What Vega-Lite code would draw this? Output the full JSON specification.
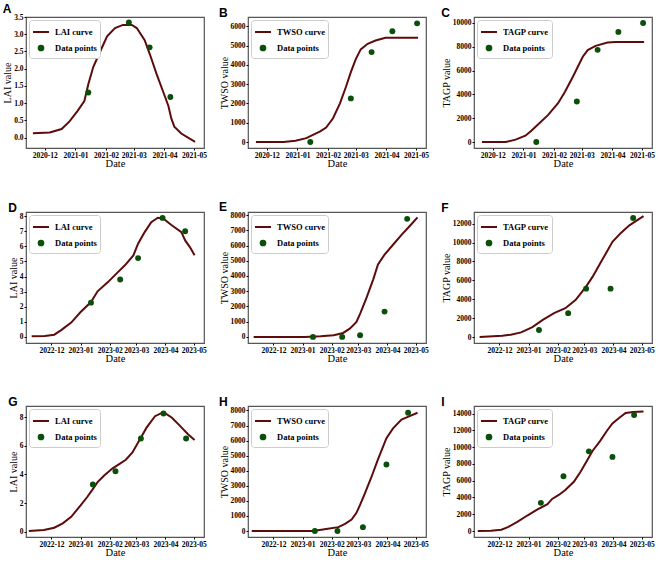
{
  "$schema": "https://vega.github.io/schema/vega-lite/v6.json",
  "padding": {"left": 2, "top": 2, "right": 2, "bottom": 1},
  "background": "white",
  "columns": 3,
  "spacing": {"row": 30, "column": 10},
  "resolve": {"scale": {"x": "independent", "y": "independent", "color": "independent"}, "legend": {"color": "independent"}, "axis": {"x": "independent", "y": "independent"}},
  "concat": [
    {
      "title": "A", "width": 178, "height": 131,
      "data": {"values": [
        {"d": "2020-11-19", "v": 0.13, "s": "LAI curve"}, {"d": "2020-12-06", "v": 0.15, "s": "LAI curve"}, {"d": "2020-12-18", "v": 0.25, "s": "LAI curve"}, {"d": "2020-12-26", "v": 0.47, "s": "LAI curve"}, {"d": "2021-01-03", "v": 0.77, "s": "LAI curve"}, {"d": "2021-01-10", "v": 1.06, "s": "LAI curve"}, {"d": "2021-01-14", "v": 1.55, "s": "LAI curve"}, {"d": "2021-01-19", "v": 2.05, "s": "LAI curve"}, {"d": "2021-01-26", "v": 2.5, "s": "LAI curve"}, {"d": "2021-02-02", "v": 2.94, "s": "LAI curve"}, {"d": "2021-02-10", "v": 3.18, "s": "LAI curve"}, {"d": "2021-02-18", "v": 3.27, "s": "LAI curve"}, {"d": "2021-02-27", "v": 3.27, "s": "LAI curve"}, {"d": "2021-03-04", "v": 3.18, "s": "LAI curve"}, {"d": "2021-03-12", "v": 2.83, "s": "LAI curve"}, {"d": "2021-03-17", "v": 2.44, "s": "LAI curve"}, {"d": "2021-03-24", "v": 1.85, "s": "LAI curve"}, {"d": "2021-03-31", "v": 1.31, "s": "LAI curve"}, {"d": "2021-04-05", "v": 0.92, "s": "LAI curve"}, {"d": "2021-04-08", "v": 0.55, "s": "LAI curve"}, {"d": "2021-04-11", "v": 0.32, "s": "LAI curve"}, {"d": "2021-04-18", "v": 0.12, "s": "LAI curve"}, {"d": "2021-05-02", "v": -0.12, "s": "LAI curve"},
        {"d": "2021-01-14", "v": 1.31, "s": "Data points"}, {"d": "2021-02-24", "v": 3.34, "s": "Data points"}, {"d": "2021-03-17", "v": 2.62, "s": "Data points"}, {"d": "2021-04-07", "v": 1.18, "s": "Data points"}
      ]},
      "encoding": {
        "x": {"field": "d", "type": "temporal", "title": "Date", "scale": {"domain": [{"year": 2020, "month": 11, "date": 12}, {"year": 2021, "month": 5, "date": 11}]}, "axis": {"format": "%Y-%m", "tickCount": {"interval": "month", "step": 1}, "labelOverlap": false, "labelFlush": false}},
        "y": {"field": "v", "type": "quantitative", "title": "LAI value", "scale": {"domain": [-0.3, 3.5], "nice": false, "zero": false}, "axis": {"values": [0, 0.5, 1, 1.5, 2, 2.5, 3, 3.5], "format": ".1f"}},
        "color": {"field": "s", "type": "nominal", "scale": {"domain": ["LAI curve", "Data points"], "range": ["#5e0b0b", "#0b4f0b"]},
          "legend": {"title": null, "encode": {"symbols": {"update": {
            "shape": {"signal": "datum.value === 'Data points' ? 'circle' : 'stroke'"},
            "size": {"signal": "datum.value === 'Data points' ? 22 : 256"},
            "fill": {"signal": "datum.value === 'Data points' ? '#0b4f0b' : 'transparent'"},
            "stroke": {"signal": "datum.value === 'Data points' ? 'transparent' : '#5e0b0b'"},
            "strokeWidth": {"value": 2}, "opacity": {"value": 1}}}}}}
      },
      "layer": [
        {"transform": [{"filter": "datum.s !== 'Data points'"}], "mark": {"type": "line", "strokeWidth": 2}},
        {"transform": [{"filter": "datum.s === 'Data points'"}], "mark": {"type": "point", "filled": true, "size": 35, "opacity": 1}}
      ]
    },
    {
      "title": "B", "width": 178, "height": 131,
      "data": {"values": [
        {"d": "2020-11-20", "v": 0, "s": "TWSO curve"}, {"d": "2020-12-18", "v": 0, "s": "TWSO curve"}, {"d": "2020-12-30", "v": 70, "s": "TWSO curve"}, {"d": "2021-01-10", "v": 200, "s": "TWSO curve"}, {"d": "2021-01-24", "v": 550, "s": "TWSO curve"}, {"d": "2021-01-30", "v": 750, "s": "TWSO curve"}, {"d": "2021-02-06", "v": 1230, "s": "TWSO curve"}, {"d": "2021-02-13", "v": 2000, "s": "TWSO curve"}, {"d": "2021-02-19", "v": 2850, "s": "TWSO curve"}, {"d": "2021-02-24", "v": 3620, "s": "TWSO curve"}, {"d": "2021-03-01", "v": 4300, "s": "TWSO curve"}, {"d": "2021-03-06", "v": 4800, "s": "TWSO curve"}, {"d": "2021-03-13", "v": 5090, "s": "TWSO curve"}, {"d": "2021-03-21", "v": 5260, "s": "TWSO curve"}, {"d": "2021-03-31", "v": 5400, "s": "TWSO curve"}, {"d": "2021-04-17", "v": 5400, "s": "TWSO curve"}, {"d": "2021-05-03", "v": 5400, "s": "TWSO curve"},
        {"d": "2021-01-14", "v": 0, "s": "Data points"}, {"d": "2021-02-24", "v": 2260, "s": "Data points"}, {"d": "2021-03-17", "v": 4660, "s": "Data points"}, {"d": "2021-04-07", "v": 5740, "s": "Data points"}, {"d": "2021-05-02", "v": 6150, "s": "Data points"}
      ]},
      "encoding": {
        "x": {"field": "d", "type": "temporal", "title": "Date", "scale": {"domain": [{"year": 2020, "month": 11, "date": 12}, {"year": 2021, "month": 5, "date": 11}]}, "axis": {"format": "%Y-%m", "tickCount": {"interval": "month", "step": 1}, "labelOverlap": false, "labelFlush": false}},
        "y": {"field": "v", "type": "quantitative", "title": "TWSO value", "scale": {"domain": [-310, 6480], "nice": false, "zero": false}, "axis": {"values": [0, 1000, 2000, 3000, 4000, 5000, 6000], "format": "d"}},
        "color": {"field": "s", "type": "nominal", "scale": {"domain": ["TWSO curve", "Data points"], "range": ["#5e0b0b", "#0b4f0b"]},
          "legend": {"title": null, "encode": {"symbols": {"update": {
            "shape": {"signal": "datum.value === 'Data points' ? 'circle' : 'stroke'"},
            "size": {"signal": "datum.value === 'Data points' ? 22 : 256"},
            "fill": {"signal": "datum.value === 'Data points' ? '#0b4f0b' : 'transparent'"},
            "stroke": {"signal": "datum.value === 'Data points' ? 'transparent' : '#5e0b0b'"},
            "strokeWidth": {"value": 2}, "opacity": {"value": 1}}}}}}
      },
      "layer": [
        {"transform": [{"filter": "datum.s !== 'Data points'"}], "mark": {"type": "line", "strokeWidth": 2}},
        {"transform": [{"filter": "datum.s === 'Data points'"}], "mark": {"type": "point", "filled": true, "size": 35, "opacity": 1}}
      ]
    },
    {
      "title": "C", "width": 178, "height": 131,
      "data": {"values": [
        {"d": "2020-11-20", "v": 0, "s": "TAGP curve"}, {"d": "2020-12-14", "v": 0, "s": "TAGP curve"}, {"d": "2020-12-24", "v": 200, "s": "TAGP curve"}, {"d": "2021-01-03", "v": 530, "s": "TAGP curve"}, {"d": "2021-01-09", "v": 950, "s": "TAGP curve"}, {"d": "2021-01-16", "v": 1500, "s": "TAGP curve"}, {"d": "2021-01-26", "v": 2280, "s": "TAGP curve"}, {"d": "2021-02-05", "v": 3260, "s": "TAGP curve"}, {"d": "2021-02-12", "v": 4230, "s": "TAGP curve"}, {"d": "2021-02-20", "v": 5490, "s": "TAGP curve"}, {"d": "2021-02-25", "v": 6320, "s": "TAGP curve"}, {"d": "2021-03-02", "v": 7160, "s": "TAGP curve"}, {"d": "2021-03-07", "v": 7720, "s": "TAGP curve"}, {"d": "2021-03-15", "v": 8080, "s": "TAGP curve"}, {"d": "2021-03-27", "v": 8360, "s": "TAGP curve"}, {"d": "2021-04-04", "v": 8410, "s": "TAGP curve"}, {"d": "2021-05-03", "v": 8410, "s": "TAGP curve"},
        {"d": "2021-01-14", "v": 0, "s": "Data points"}, {"d": "2021-02-24", "v": 3400, "s": "Data points"}, {"d": "2021-03-17", "v": 7740, "s": "Data points"}, {"d": "2021-04-07", "v": 9250, "s": "Data points"}, {"d": "2021-05-02", "v": 10000, "s": "Data points"}
      ]},
      "encoding": {
        "x": {"field": "d", "type": "temporal", "title": "Date", "scale": {"domain": [{"year": 2020, "month": 11, "date": 12}, {"year": 2021, "month": 5, "date": 11}]}, "axis": {"format": "%Y-%m", "tickCount": {"interval": "month", "step": 1}, "labelOverlap": false, "labelFlush": false}},
        "y": {"field": "v", "type": "quantitative", "title": "TAGP value", "scale": {"domain": [-500, 10500], "nice": false, "zero": false}, "axis": {"values": [0, 2000, 4000, 6000, 8000, 10000], "format": "d"}},
        "color": {"field": "s", "type": "nominal", "scale": {"domain": ["TAGP curve", "Data points"], "range": ["#5e0b0b", "#0b4f0b"]},
          "legend": {"title": null, "encode": {"symbols": {"update": {
            "shape": {"signal": "datum.value === 'Data points' ? 'circle' : 'stroke'"},
            "size": {"signal": "datum.value === 'Data points' ? 22 : 256"},
            "fill": {"signal": "datum.value === 'Data points' ? '#0b4f0b' : 'transparent'"},
            "stroke": {"signal": "datum.value === 'Data points' ? 'transparent' : '#5e0b0b'"},
            "strokeWidth": {"value": 2}, "opacity": {"value": 1}}}}}}
      },
      "layer": [
        {"transform": [{"filter": "datum.s !== 'Data points'"}], "mark": {"type": "line", "strokeWidth": 2}},
        {"transform": [{"filter": "datum.s === 'Data points'"}], "mark": {"type": "point", "filled": true, "size": 35, "opacity": 1}}
      ]
    },
    {
      "title": "D", "width": 178, "height": 131,
      "data": {"values": [
        {"d": "2022-11-10", "v": 0.05, "s": "LAI curve"}, {"d": "2022-11-24", "v": 0.07, "s": "LAI curve"}, {"d": "2022-12-04", "v": 0.15, "s": "LAI curve"}, {"d": "2022-12-11", "v": 0.44, "s": "LAI curve"}, {"d": "2022-12-22", "v": 0.95, "s": "LAI curve"}, {"d": "2023-01-01", "v": 1.65, "s": "LAI curve"}, {"d": "2023-01-12", "v": 2.31, "s": "LAI curve"}, {"d": "2023-01-19", "v": 3.02, "s": "LAI curve"}, {"d": "2023-01-30", "v": 3.63, "s": "LAI curve"}, {"d": "2023-02-08", "v": 4.19, "s": "LAI curve"}, {"d": "2023-02-17", "v": 4.74, "s": "LAI curve"}, {"d": "2023-02-26", "v": 5.4, "s": "LAI curve"}, {"d": "2023-03-03", "v": 6.17, "s": "LAI curve"}, {"d": "2023-03-10", "v": 6.94, "s": "LAI curve"}, {"d": "2023-03-17", "v": 7.6, "s": "LAI curve"}, {"d": "2023-03-24", "v": 7.89, "s": "LAI curve"}, {"d": "2023-03-30", "v": 7.82, "s": "LAI curve"}, {"d": "2023-04-07", "v": 7.43, "s": "LAI curve"}, {"d": "2023-04-18", "v": 6.94, "s": "LAI curve"}, {"d": "2023-04-22", "v": 6.39, "s": "LAI curve"}, {"d": "2023-04-27", "v": 5.95, "s": "LAI curve"}, {"d": "2023-05-02", "v": 5.4, "s": "LAI curve"},
        {"d": "2023-01-12", "v": 2.27, "s": "Data points"}, {"d": "2023-02-12", "v": 3.8, "s": "Data points"}, {"d": "2023-03-03", "v": 5.22, "s": "Data points"}, {"d": "2023-03-29", "v": 7.88, "s": "Data points"}, {"d": "2023-04-22", "v": 7.0, "s": "Data points"}
      ]},
      "encoding": {
        "x": {"field": "d", "type": "temporal", "title": "Date", "scale": {"domain": [{"year": 2022, "month": 11, "date": 4}, {"year": 2023, "month": 5, "date": 12}]}, "axis": {"format": "%Y-%m", "tickCount": {"interval": "month", "step": 1}, "labelOverlap": false, "labelFlush": false}},
        "y": {"field": "v", "type": "quantitative", "title": "LAI value", "scale": {"domain": [-0.4, 8.27], "nice": false, "zero": false}, "axis": {"values": [0, 1, 2, 3, 4, 5, 6, 7, 8], "format": "d"}},
        "color": {"field": "s", "type": "nominal", "scale": {"domain": ["LAI curve", "Data points"], "range": ["#5e0b0b", "#0b4f0b"]},
          "legend": {"title": null, "encode": {"symbols": {"update": {
            "shape": {"signal": "datum.value === 'Data points' ? 'circle' : 'stroke'"},
            "size": {"signal": "datum.value === 'Data points' ? 22 : 256"},
            "fill": {"signal": "datum.value === 'Data points' ? '#0b4f0b' : 'transparent'"},
            "stroke": {"signal": "datum.value === 'Data points' ? 'transparent' : '#5e0b0b'"},
            "strokeWidth": {"value": 2}, "opacity": {"value": 1}}}}}}
      },
      "layer": [
        {"transform": [{"filter": "datum.s !== 'Data points'"}], "mark": {"type": "line", "strokeWidth": 2}},
        {"transform": [{"filter": "datum.s === 'Data points'"}], "mark": {"type": "point", "filled": true, "size": 35, "opacity": 1}}
      ]
    },
    {
      "title": "E", "width": 178, "height": 131,
      "data": {"values": [
        {"d": "2022-11-10", "v": 0, "s": "TWSO curve"}, {"d": "2023-01-03", "v": 0, "s": "TWSO curve"}, {"d": "2023-01-20", "v": 40, "s": "TWSO curve"}, {"d": "2023-02-03", "v": 110, "s": "TWSO curve"}, {"d": "2023-02-13", "v": 260, "s": "TWSO curve"}, {"d": "2023-02-20", "v": 540, "s": "TWSO curve"}, {"d": "2023-02-27", "v": 970, "s": "TWSO curve"}, {"d": "2023-03-03", "v": 1510, "s": "TWSO curve"}, {"d": "2023-03-10", "v": 2590, "s": "TWSO curve"}, {"d": "2023-03-17", "v": 3780, "s": "TWSO curve"}, {"d": "2023-03-22", "v": 4760, "s": "TWSO curve"}, {"d": "2023-03-29", "v": 5400, "s": "TWSO curve"}, {"d": "2023-04-07", "v": 6050, "s": "TWSO curve"}, {"d": "2023-04-16", "v": 6700, "s": "TWSO curve"}, {"d": "2023-04-25", "v": 7300, "s": "TWSO curve"}, {"d": "2023-05-03", "v": 7850, "s": "TWSO curve"},
        {"d": "2023-01-12", "v": 0, "s": "Data points"}, {"d": "2023-02-12", "v": 0, "s": "Data points"}, {"d": "2023-03-03", "v": 110, "s": "Data points"}, {"d": "2023-03-29", "v": 1660, "s": "Data points"}, {"d": "2023-04-22", "v": 7750, "s": "Data points"}
      ]},
      "encoding": {
        "x": {"field": "d", "type": "temporal", "title": "Date", "scale": {"domain": [{"year": 2022, "month": 11, "date": 4}, {"year": 2023, "month": 5, "date": 12}]}, "axis": {"format": "%Y-%m", "tickCount": {"interval": "month", "step": 1}, "labelOverlap": false, "labelFlush": false}},
        "y": {"field": "v", "type": "quantitative", "title": "TWSO value", "scale": {"domain": [-400, 8200], "nice": false, "zero": false}, "axis": {"values": [0, 1000, 2000, 3000, 4000, 5000, 6000, 7000, 8000], "format": "d"}},
        "color": {"field": "s", "type": "nominal", "scale": {"domain": ["TWSO curve", "Data points"], "range": ["#5e0b0b", "#0b4f0b"]},
          "legend": {"title": null, "encode": {"symbols": {"update": {
            "shape": {"signal": "datum.value === 'Data points' ? 'circle' : 'stroke'"},
            "size": {"signal": "datum.value === 'Data points' ? 22 : 256"},
            "fill": {"signal": "datum.value === 'Data points' ? '#0b4f0b' : 'transparent'"},
            "stroke": {"signal": "datum.value === 'Data points' ? 'transparent' : '#5e0b0b'"},
            "strokeWidth": {"value": 2}, "opacity": {"value": 1}}}}}}
      },
      "layer": [
        {"transform": [{"filter": "datum.s !== 'Data points'"}], "mark": {"type": "line", "strokeWidth": 2}},
        {"transform": [{"filter": "datum.s === 'Data points'"}], "mark": {"type": "point", "filled": true, "size": 35, "opacity": 1}}
      ]
    },
    {
      "title": "F", "width": 178, "height": 131,
      "data": {"values": [
        {"d": "2022-11-10", "v": 0, "s": "TAGP curve"}, {"d": "2022-12-04", "v": 140, "s": "TAGP curve"}, {"d": "2022-12-13", "v": 250, "s": "TAGP curve"}, {"d": "2022-12-24", "v": 490, "s": "TAGP curve"}, {"d": "2023-01-05", "v": 1050, "s": "TAGP curve"}, {"d": "2023-01-16", "v": 1820, "s": "TAGP curve"}, {"d": "2023-01-28", "v": 2530, "s": "TAGP curve"}, {"d": "2023-02-09", "v": 3050, "s": "TAGP curve"}, {"d": "2023-02-20", "v": 3930, "s": "TAGP curve"}, {"d": "2023-03-03", "v": 5330, "s": "TAGP curve"}, {"d": "2023-03-10", "v": 6390, "s": "TAGP curve"}, {"d": "2023-03-20", "v": 8140, "s": "TAGP curve"}, {"d": "2023-03-31", "v": 10070, "s": "TAGP curve"}, {"d": "2023-04-09", "v": 11020, "s": "TAGP curve"}, {"d": "2023-04-18", "v": 11820, "s": "TAGP curve"}, {"d": "2023-04-26", "v": 12350, "s": "TAGP curve"}, {"d": "2023-05-03", "v": 12800, "s": "TAGP curve"},
        {"d": "2023-01-12", "v": 740, "s": "Data points"}, {"d": "2023-02-12", "v": 2530, "s": "Data points"}, {"d": "2023-03-03", "v": 5120, "s": "Data points"}, {"d": "2023-03-29", "v": 5120, "s": "Data points"}, {"d": "2023-04-22", "v": 12600, "s": "Data points"}
      ]},
      "encoding": {
        "x": {"field": "d", "type": "temporal", "title": "Date", "scale": {"domain": [{"year": 2022, "month": 11, "date": 4}, {"year": 2023, "month": 5, "date": 12}]}, "axis": {"format": "%Y-%m", "tickCount": {"interval": "month", "step": 1}, "labelOverlap": false, "labelFlush": false}},
        "y": {"field": "v", "type": "quantitative", "title": "TAGP value", "scale": {"domain": [-630, 13230], "nice": false, "zero": false}, "axis": {"values": [0, 2000, 4000, 6000, 8000, 10000, 12000], "format": "d"}},
        "color": {"field": "s", "type": "nominal", "scale": {"domain": ["TAGP curve", "Data points"], "range": ["#5e0b0b", "#0b4f0b"]},
          "legend": {"title": null, "encode": {"symbols": {"update": {
            "shape": {"signal": "datum.value === 'Data points' ? 'circle' : 'stroke'"},
            "size": {"signal": "datum.value === 'Data points' ? 22 : 256"},
            "fill": {"signal": "datum.value === 'Data points' ? '#0b4f0b' : 'transparent'"},
            "stroke": {"signal": "datum.value === 'Data points' ? 'transparent' : '#5e0b0b'"},
            "strokeWidth": {"value": 2}, "opacity": {"value": 1}}}}}}
      },
      "layer": [
        {"transform": [{"filter": "datum.s !== 'Data points'"}], "mark": {"type": "line", "strokeWidth": 2}},
        {"transform": [{"filter": "datum.s === 'Data points'"}], "mark": {"type": "point", "filled": true, "size": 35, "opacity": 1}}
      ]
    },
    {
      "title": "G", "width": 178, "height": 131,
      "data": {"values": [
        {"d": "2022-11-07", "v": 0.05, "s": "LAI curve"}, {"d": "2022-11-23", "v": 0.12, "s": "LAI curve"}, {"d": "2022-12-04", "v": 0.28, "s": "LAI curve"}, {"d": "2022-12-13", "v": 0.58, "s": "LAI curve"}, {"d": "2022-12-22", "v": 1.04, "s": "LAI curve"}, {"d": "2023-01-01", "v": 1.84, "s": "LAI curve"}, {"d": "2023-01-08", "v": 2.42, "s": "LAI curve"}, {"d": "2023-01-13", "v": 2.88, "s": "LAI curve"}, {"d": "2023-01-19", "v": 3.46, "s": "LAI curve"}, {"d": "2023-01-26", "v": 3.92, "s": "LAI curve"}, {"d": "2023-02-04", "v": 4.42, "s": "LAI curve"}, {"d": "2023-02-11", "v": 4.72, "s": "LAI curve"}, {"d": "2023-02-18", "v": 5.02, "s": "LAI curve"}, {"d": "2023-02-25", "v": 5.53, "s": "LAI curve"}, {"d": "2023-03-05", "v": 6.45, "s": "LAI curve"}, {"d": "2023-03-12", "v": 7.26, "s": "LAI curve"}, {"d": "2023-03-21", "v": 8.06, "s": "LAI curve"}, {"d": "2023-03-30", "v": 8.34, "s": "LAI curve"}, {"d": "2023-04-08", "v": 7.95, "s": "LAI curve"}, {"d": "2023-04-16", "v": 7.42, "s": "LAI curve"}, {"d": "2023-04-25", "v": 6.8, "s": "LAI curve"}, {"d": "2023-05-02", "v": 6.4, "s": "LAI curve"},
        {"d": "2023-01-14", "v": 3.3, "s": "Data points"}, {"d": "2023-02-07", "v": 4.22, "s": "Data points"}, {"d": "2023-03-06", "v": 6.5, "s": "Data points"}, {"d": "2023-03-30", "v": 8.25, "s": "Data points"}, {"d": "2023-04-23", "v": 6.5, "s": "Data points"}
      ]},
      "encoding": {
        "x": {"field": "d", "type": "temporal", "title": "Date", "scale": {"domain": [{"year": 2022, "month": 11, "date": 4}, {"year": 2023, "month": 5, "date": 12}]}, "axis": {"format": "%Y-%m", "tickCount": {"interval": "month", "step": 1}, "labelOverlap": false, "labelFlush": false}},
        "y": {"field": "v", "type": "quantitative", "title": "LAI value", "scale": {"domain": [-0.37, 8.77], "nice": false, "zero": false}, "axis": {"values": [0, 2, 4, 6, 8], "format": "d"}},
        "color": {"field": "s", "type": "nominal", "scale": {"domain": ["LAI curve", "Data points"], "range": ["#5e0b0b", "#0b4f0b"]},
          "legend": {"title": null, "encode": {"symbols": {"update": {
            "shape": {"signal": "datum.value === 'Data points' ? 'circle' : 'stroke'"},
            "size": {"signal": "datum.value === 'Data points' ? 22 : 256"},
            "fill": {"signal": "datum.value === 'Data points' ? '#0b4f0b' : 'transparent'"},
            "stroke": {"signal": "datum.value === 'Data points' ? 'transparent' : '#5e0b0b'"},
            "strokeWidth": {"value": 2}, "opacity": {"value": 1}}}}}}
      },
      "layer": [
        {"transform": [{"filter": "datum.s !== 'Data points'"}], "mark": {"type": "line", "strokeWidth": 2}},
        {"transform": [{"filter": "datum.s === 'Data points'"}], "mark": {"type": "point", "filled": true, "size": 35, "opacity": 1}}
      ]
    },
    {
      "title": "H", "width": 178, "height": 131,
      "data": {"values": [
        {"d": "2022-11-08", "v": 0, "s": "TWSO curve"}, {"d": "2023-01-12", "v": 0, "s": "TWSO curve"}, {"d": "2023-01-26", "v": 130, "s": "TWSO curve"}, {"d": "2023-02-08", "v": 260, "s": "TWSO curve"}, {"d": "2023-02-15", "v": 480, "s": "TWSO curve"}, {"d": "2023-02-22", "v": 760, "s": "TWSO curve"}, {"d": "2023-02-27", "v": 1190, "s": "TWSO curve"}, {"d": "2023-03-03", "v": 1730, "s": "TWSO curve"}, {"d": "2023-03-08", "v": 2490, "s": "TWSO curve"}, {"d": "2023-03-15", "v": 3570, "s": "TWSO curve"}, {"d": "2023-03-22", "v": 4760, "s": "TWSO curve"}, {"d": "2023-03-31", "v": 6160, "s": "TWSO curve"}, {"d": "2023-04-07", "v": 6810, "s": "TWSO curve"}, {"d": "2023-04-16", "v": 7400, "s": "TWSO curve"}, {"d": "2023-04-24", "v": 7610, "s": "TWSO curve"}, {"d": "2023-05-03", "v": 7850, "s": "TWSO curve"},
        {"d": "2023-01-14", "v": 0, "s": "Data points"}, {"d": "2023-02-07", "v": 0, "s": "Data points"}, {"d": "2023-03-06", "v": 260, "s": "Data points"}, {"d": "2023-03-31", "v": 4410, "s": "Data points"}, {"d": "2023-04-23", "v": 7850, "s": "Data points"}
      ]},
      "encoding": {
        "x": {"field": "d", "type": "temporal", "title": "Date", "scale": {"domain": [{"year": 2022, "month": 11, "date": 4}, {"year": 2023, "month": 5, "date": 12}]}, "axis": {"format": "%Y-%m", "tickCount": {"interval": "month", "step": 1}, "labelOverlap": false, "labelFlush": false}},
        "y": {"field": "v", "type": "quantitative", "title": "TWSO value", "scale": {"domain": [-395, 8295], "nice": false, "zero": false}, "axis": {"values": [0, 1000, 2000, 3000, 4000, 5000, 6000, 7000, 8000], "format": "d"}},
        "color": {"field": "s", "type": "nominal", "scale": {"domain": ["TWSO curve", "Data points"], "range": ["#5e0b0b", "#0b4f0b"]},
          "legend": {"title": null, "encode": {"symbols": {"update": {
            "shape": {"signal": "datum.value === 'Data points' ? 'circle' : 'stroke'"},
            "size": {"signal": "datum.value === 'Data points' ? 22 : 256"},
            "fill": {"signal": "datum.value === 'Data points' ? '#0b4f0b' : 'transparent'"},
            "stroke": {"signal": "datum.value === 'Data points' ? 'transparent' : '#5e0b0b'"},
            "strokeWidth": {"value": 2}, "opacity": {"value": 1}}}}}}
      },
      "layer": [
        {"transform": [{"filter": "datum.s !== 'Data points'"}], "mark": {"type": "line", "strokeWidth": 2}},
        {"transform": [{"filter": "datum.s === 'Data points'"}], "mark": {"type": "point", "filled": true, "size": 35, "opacity": 1}}
      ]
    },
    {
      "title": "I", "width": 178, "height": 131,
      "data": {"values": [
        {"d": "2022-11-08", "v": 0, "s": "TAGP curve"}, {"d": "2022-11-22", "v": 40, "s": "TAGP curve"}, {"d": "2022-12-03", "v": 160, "s": "TAGP curve"}, {"d": "2022-12-10", "v": 470, "s": "TAGP curve"}, {"d": "2022-12-20", "v": 1100, "s": "TAGP curve"}, {"d": "2022-12-31", "v": 1880, "s": "TAGP curve"}, {"d": "2023-01-10", "v": 2540, "s": "TAGP curve"}, {"d": "2023-01-21", "v": 3210, "s": "TAGP curve"}, {"d": "2023-01-26", "v": 3830, "s": "TAGP curve"}, {"d": "2023-02-02", "v": 4300, "s": "TAGP curve"}, {"d": "2023-02-09", "v": 4890, "s": "TAGP curve"}, {"d": "2023-02-18", "v": 5870, "s": "TAGP curve"}, {"d": "2023-02-25", "v": 7040, "s": "TAGP curve"}, {"d": "2023-03-03", "v": 8210, "s": "TAGP curve"}, {"d": "2023-03-10", "v": 9580, "s": "TAGP curve"}, {"d": "2023-03-18", "v": 10750, "s": "TAGP curve"}, {"d": "2023-03-25", "v": 11930, "s": "TAGP curve"}, {"d": "2023-03-31", "v": 12830, "s": "TAGP curve"}, {"d": "2023-04-07", "v": 13490, "s": "TAGP curve"}, {"d": "2023-04-14", "v": 14080, "s": "TAGP curve"}, {"d": "2023-04-22", "v": 14200, "s": "TAGP curve"}, {"d": "2023-05-03", "v": 14240, "s": "TAGP curve"},
        {"d": "2023-01-14", "v": 3360, "s": "Data points"}, {"d": "2023-02-07", "v": 6530, "s": "Data points"}, {"d": "2023-03-06", "v": 9500, "s": "Data points"}, {"d": "2023-03-31", "v": 8840, "s": "Data points"}, {"d": "2023-04-23", "v": 13840, "s": "Data points"}
      ]},
      "encoding": {
        "x": {"field": "d", "type": "temporal", "title": "Date", "scale": {"domain": [{"year": 2022, "month": 11, "date": 4}, {"year": 2023, "month": 5, "date": 12}]}, "axis": {"format": "%Y-%m", "tickCount": {"interval": "month", "step": 1}, "labelOverlap": false, "labelFlush": false}},
        "y": {"field": "v", "type": "quantitative", "title": "TAGP value", "scale": {"domain": [-710, 14910], "nice": false, "zero": false}, "axis": {"values": [0, 2000, 4000, 6000, 8000, 10000, 12000, 14000], "format": "d"}},
        "color": {"field": "s", "type": "nominal", "scale": {"domain": ["TAGP curve", "Data points"], "range": ["#5e0b0b", "#0b4f0b"]},
          "legend": {"title": null, "encode": {"symbols": {"update": {
            "shape": {"signal": "datum.value === 'Data points' ? 'circle' : 'stroke'"},
            "size": {"signal": "datum.value === 'Data points' ? 22 : 256"},
            "fill": {"signal": "datum.value === 'Data points' ? '#0b4f0b' : 'transparent'"},
            "stroke": {"signal": "datum.value === 'Data points' ? 'transparent' : '#5e0b0b'"},
            "strokeWidth": {"value": 2}, "opacity": {"value": 1}}}}}}
      },
      "layer": [
        {"transform": [{"filter": "datum.s !== 'Data points'"}], "mark": {"type": "line", "strokeWidth": 2}},
        {"transform": [{"filter": "datum.s === 'Data points'"}], "mark": {"type": "point", "filled": true, "size": 35, "opacity": 1}}
      ]
    }
  ],
  "config": {
    "font": "Liberation Serif",
    "view": {"stroke": "#555555", "strokeWidth": 1.2},
    "axis": {"labelFont": "Liberation Serif", "labelFontWeight": "bold", "labelFontSize": 7.5, "labelColor": "black", "titleFont": "Liberation Serif", "titleFontWeight": "normal", "titleFontSize": 10.5, "titleColor": "black", "domain": false, "grid": false, "tickSize": 2, "tickColor": "black", "labelPadding": 1, "titlePadding": 0},
    "axisY": {"titlePadding": 1, "titleFontSize": 10},
    "title": {"font": "Liberation Sans", "fontWeight": "bold", "fontSize": 12, "anchor": "start", "offset": -3, "color": "black", "frame": "bounds"},
    "legend": {"orient": "top-left", "offset": 3, "fillColor": "white", "strokeColor": "#cccccc", "cornerRadius": 3, "padding": 3, "labelFont": "Liberation Serif", "labelFontWeight": "bold", "labelFontSize": 8.5, "labelColor": "black", "symbolSize": 256, "labelOffset": 5, "rowPadding": 2}
  }
}
